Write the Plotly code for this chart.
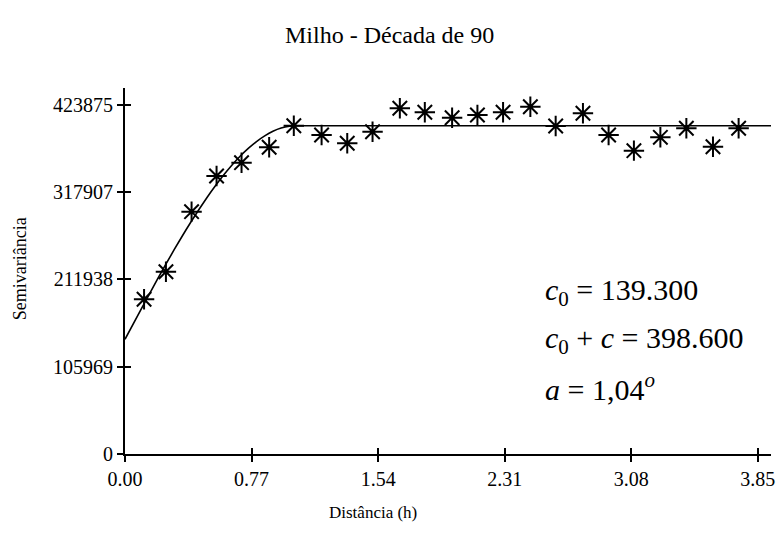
import plotly.graph_objects as go

# Experimental semivariogram (lag distance h, semivariance)
lag_h = [0.116, 0.249, 0.405, 0.557, 0.709, 0.877, 1.027, 1.196, 1.352, 1.506,
         1.672, 1.824, 1.990, 2.144, 2.300, 2.466, 2.620, 2.786, 2.942, 3.096,
         3.257, 3.415, 3.577, 3.733]
semivar = [187900, 221400, 294300, 337600, 353800, 372500, 398700, 387400, 377400, 391400,
           419900, 415000, 408400, 411700, 415000, 421800, 398400, 413800, 387400, 368400,
           384600, 395600, 373200, 395600]

# Fitted model curve
model_h = [0.0, 0.1, 0.2, 0.3, 0.4, 0.5, 0.55, 0.6, 0.65, 0.7, 0.75, 0.8, 0.85, 0.9,
           0.95, 1.0, 1.04, 3.93]
model_g = [139300, 176600, 213200, 248400, 281500, 311900, 325800, 338800, 350700,
           361600, 371200, 379500, 386400, 391900, 395800, 398000, 398600, 398600]

x_ticks = [0.00, 0.77, 1.54, 2.31, 3.08, 3.85]
x_ticklabels = ["0.00", "0.77", "1.54", "2.31", "3.08", "3.85"]
y_ticks = [0, 105969, 211938, 317907, 423875]
y_ticklabels = ["0", "105969", "211938", "317907", "423875"]

eq_lines = ["<i>c</i><sub>0</sub> = 139.300",
            "<i>c</i><sub>0</sub> + <i>c</i> = 398.600",
            "<i>a</i> = 1,04<sup><i>o</i></sup>"]
eq_y = [197100, 138400, 81700]

FONT = "Liberation Serif, Times New Roman, serif"
X_RANGE = [0, 3.93]
Y_RANGE = [0, 444500]

fig = go.Figure()
fig.add_trace(go.Scatter(x=model_h, y=model_g, mode="lines",
                         line=dict(color="black", width=1.6, shape="spline", smoothing=0.6),
                         showlegend=False, hoverinfo="skip"))
fig.add_trace(go.Scatter(x=lag_h, y=semivar, mode="markers",
                         marker=dict(symbol="asterisk-open", size=17, color="black",
                                     line=dict(color="black", width=2)),
                         showlegend=False))
# invisible trace to hold the overlay axes (used for inward tick halves)
fig.add_trace(go.Scatter(x=[None], y=[None], xaxis="x2", yaxis="y2",
                         showlegend=False, hoverinfo="skip"))

axis_common = dict(showgrid=False, zeroline=False, showline=True,
                   linecolor="black", linewidth=2, tickcolor="black",
                   tickwidth=1.5)

fig.update_layout(
    width=776, height=533,
    margin=dict(l=125, r=5, t=88, b=79),
    paper_bgcolor="white", plot_bgcolor="white",
    font=dict(family=FONT, color="black", size=20),
    xaxis=dict(range=X_RANGE, tickmode="array", tickvals=x_ticks,
               ticktext=x_ticklabels, ticks="outside", ticklen=6,
               tickfont=dict(size=20, family=FONT), automargin=False, **axis_common),
    yaxis=dict(range=Y_RANGE, tickmode="array", tickvals=y_ticks,
               ticktext=y_ticklabels, ticks="outside", ticklen=6,
               tickfont=dict(size=20, family=FONT), automargin=False, **axis_common),
    xaxis2=dict(range=X_RANGE, overlaying="x", anchor="y2", side="bottom",
                tickmode="array", tickvals=x_ticks, ticks="inside", ticklen=6,
                showticklabels=False, showgrid=False, zeroline=False,
                showline=False, tickcolor="black", tickwidth=1.5),
    yaxis2=dict(range=Y_RANGE, overlaying="y", anchor="x2", side="left",
                tickmode="array", tickvals=y_ticks, ticks="inside", ticklen=6,
                showticklabels=False, showgrid=False, zeroline=False,
                showline=False, tickcolor="black", tickwidth=1.5),
)

annotations = [
    dict(text="Milho - Década de 90", x=0.410, y=1.145, xref="paper", yref="paper",
         showarrow=False, font=dict(size=24, family=FONT), xanchor="center", yanchor="middle"),
    dict(text="Distância (h)", x=0.384, y=-0.161, xref="paper", yref="paper",
         showarrow=False, font=dict(size=17, family=FONT), xanchor="center", yanchor="middle"),
    dict(text="Semivariância", x=-0.1625, y=0.505, xref="paper", yref="paper",
         showarrow=False, textangle=-90, font=dict(size=18, family=FONT),
         xanchor="center", yanchor="middle"),
]
for txt, yv in zip(eq_lines, eq_y):
    annotations.append(dict(text=txt, x=2.541, y=yv, xref="x", yref="y",
                            showarrow=False, font=dict(size=30, family=FONT),
                            xanchor="left", yanchor="middle"))
fig.update_layout(annotations=annotations)

fig.write_html("out.html", config={"displayModeBar": False},
               post_script="document.body.style.margin='0';")
